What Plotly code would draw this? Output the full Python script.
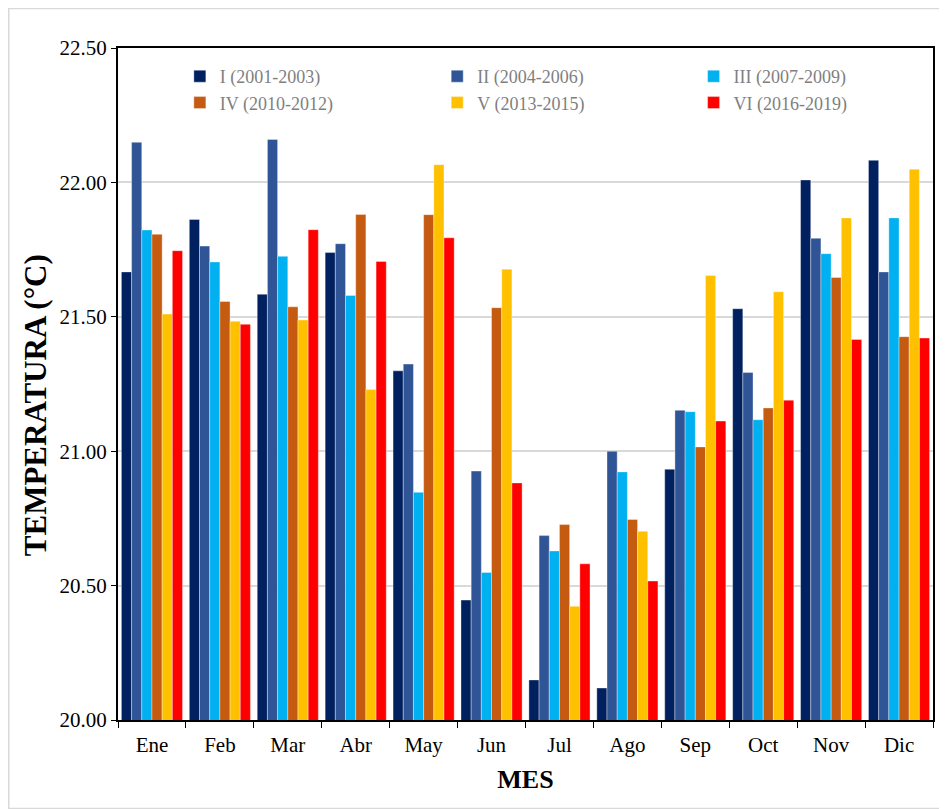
import plotly.graph_objects as go

months = ["Ene", "Feb", "Mar", "Abr", "May", "Jun", "Jul", "Ago", "Sep", "Oct", "Nov", "Dic"]

s1 = [21.667, 21.862, 21.584, 21.739, 21.299, 20.446, 20.149, 20.119, 20.933, 21.530, 22.009, 22.082]
s2 = [22.149, 21.763, 22.160, 21.772, 21.324, 20.926, 20.686, 21.000, 21.152, 21.293, 21.792, 21.667]
s3 = [21.823, 21.704, 21.725, 21.579, 20.847, 20.549, 20.629, 20.923, 21.147, 21.117, 21.735, 21.868]
s4 = [21.807, 21.557, 21.537, 21.881, 21.880, 21.534, 20.727, 20.746, 21.016, 21.161, 21.646, 21.426]
s5 = [21.510, 21.483, 21.488, 21.230, 22.066, 21.677, 20.423, 20.702, 21.654, 21.593, 21.868, 22.049]
s6 = [21.746, 21.472, 21.824, 21.706, 21.794, 20.882, 20.581, 20.517, 21.112, 21.190, 21.416, 21.421]

names = ["I (2001-2003)", "II (2004-2006)", "III (2007-2009)",
         "IV (2010-2012)", "V (2013-2015)", "VI (2016-2019)"]
colors = ["#002060", "#2F5597", "#00B0F0", "#C55A11", "#FFC000", "#FF0000"]
legends = ["legend", "legend2", "legend3", "legend", "legend2", "legend3"]
series = [s1, s2, s3, s4, s5, s6]

y_title = "TEMPERATURA (°C)"
x_title = "MES"

fig = go.Figure()
for nm, vals, col, lg in zip(names, series, colors, legends):
    fig.add_trace(go.Bar(
        x=months, y=vals, name=nm, legend=lg,
        marker=dict(color=col, line=dict(color="rgba(255,255,255,0.6)", width=0.6)),
    ))

# figure is drawn inside the page with an 8px body margin
W, H = 939, 801
L, R, T, B = 110, 12, 40, 89
pw, ph = W - L - R, H - T - B

def px(x):
    return (x - L) / pw

def py(y):
    return (H - B - y) / ph

font_serif = "Liberation Serif, Times New Roman, serif"
legfont = dict(family=font_serif, size=18, color="#7f7f7f")

def leg(xpix):
    return dict(x=px(xpix), y=py(50), xanchor="left", yanchor="top",
                orientation="v", bgcolor="rgba(0,0,0,0)", font=legfont,
                tracegroupgap=0, itemwidth=30)

fig.update_layout(
    width=W, height=H,
    margin=dict(l=L, r=R, t=T, b=B),
    paper_bgcolor="white", plot_bgcolor="white",
    barmode="group", bargap=0.1, bargroupgap=0,
    font=dict(family=font_serif, size=21, color="black"),
    showlegend=True,
    legend=leg(172),
    legend2=leg(430),
    legend3=leg(687),
    xaxis=dict(
        showline=True, linecolor="black", linewidth=2, mirror=True,
        ticks="outside", tickson="boundaries", ticklen=6, tickcolor="black",
        ticklabelstandoff=5,
        tickfont=dict(family=font_serif, size=21, color="black"),
        title=dict(text="<b>" + x_title + "</b>", font=dict(family=font_serif, size=26, color="black"), standoff=14),
    ),
    yaxis=dict(
        range=[20, 22.5], dtick=0.5, tick0=20, tickformat=".2f",
        showline=True, linecolor="black", linewidth=2, mirror=True,
        ticks="outside", ticklen=5, tickcolor="black",
        showgrid=True, gridcolor="#d9d9d9", gridwidth=2,
        tickfont=dict(family=font_serif, size=21, color="black"),
        zeroline=False,
    ),
    annotations=[dict(text="<b>" + y_title + "</b>", textangle=-90,
                      xref="paper", yref="paper", x=px(27), y=py(397),
                      xanchor="center", yanchor="middle", showarrow=False,
                      font=dict(family=font_serif, size=31, color="black"))],
    shapes=[dict(type="rect", xref="paper", yref="paper",
                 x0=px(0.5), x1=px(W - 0.5), y0=py(H - 0.5), y1=py(0.5),
                 line=dict(color="#d9d9d9", width=1.5), layer="below")],
)

fig.write_html("out.html")
